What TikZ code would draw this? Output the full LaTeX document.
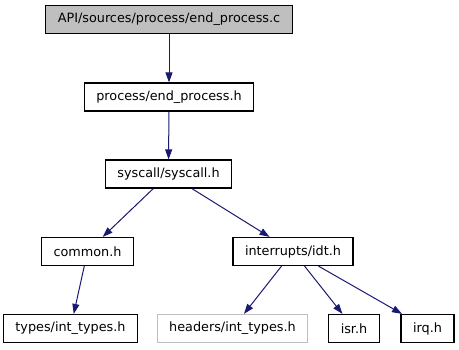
\documentclass[tikz,border=0pt]{standalone}
\usepackage{fontspec}
\setmainfont{DejaVu Sans}
\usetikzlibrary{arrows.meta}
\definecolor{midnight}{HTML}{191970}

\begin{document}
\begin{tikzpicture}[x=1pt,y=1pt,
	file/.style={draw=black, line width=1.2pt, fill=white, inner xsep=12pt, inner ysep=0pt,
		minimum height=28pt, font=\fontsize{12.8}{15}\selectfont},
	rootfile/.style={file, fill=black!25},
	extfile/.style={file, draw=black!25},
	dep/.style={draw=midnight, line width=1pt, -{Triangle[length=10pt,width=7pt]}}]
	\useasboundingbox (0,0) rectangle (459,-349);

	\node[rootfile] (endc) at (169,-19.5) {API/sources/process/end\_process.c};
	\node[file] (endh) at (169,-97) {process/end\_process.h};
	\node[file] (syscall) at (168.5,-174) {syscall/syscall.h};
	\node[file] (common) at (87.5,-251.5) {common.h};
	\node[file] (idt) at (293,-251.5) {interrupts/idt.h};
	\node[file] (types) at (70.5,-328.5) {types/int\_types.h};
	\node[extfile] (headers) at (232.5,-328.5) {headers/int\_types.h};
	\node[file] (isr) at (354,-328.5) {isr.h};
	\node[file] (irq) at (427.5,-328.5) {irq.h};

	\draw[dep] (endc) -- (endh);
	\draw[dep] (endh) -- (syscall);
	\draw[dep] (syscall) -- (common);
	\draw[dep] (syscall) -- (idt);
	\draw[dep] (common) -- (types);
	\draw[dep] (idt) -- (headers);
	\draw[dep] (idt) -- (isr);
	\draw[dep] (idt) -- (irq);
\end{tikzpicture}
\end{document}
